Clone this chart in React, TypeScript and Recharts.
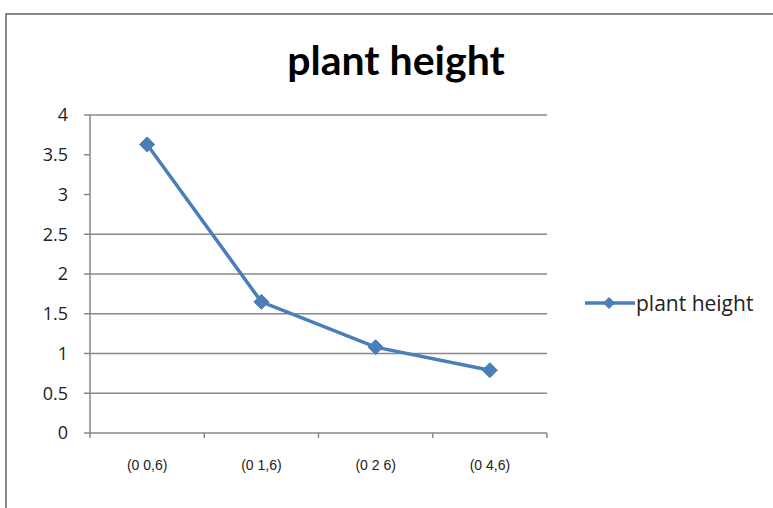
import { CartesianGrid, Line, LineChart, XAxis, YAxis } from "recharts"

const categories = ["(0 0,6)", "(0 1,6)", "(0 2 6)", "(0 4,6)"]
const plantHeight = [3.63, 1.65, 1.08, 0.79]
const yTicks = [0, 0.5, 1, 1.5, 2, 2.5, 3, 3.5, 4]
const gridValues = [0.5, 1, 1.5, 2, 2.5, 4]
const edgeTicks = [0, 1, 2, 3, 4]

// pos = middle of each category slot, used by the boundary-tick axis
const data = categories.map((name, i) => ({ name, pos: i + 0.5, height: plantHeight[i] }))

const BLUE = "#4a7ebb"
const AXIS = "#888888"
const Y_MAX = yTicks[yTicks.length - 1]

// diamond marker like the old office chart style
const Diamond = (props: any) => {
  const { cx, cy, size = 7.5 } = props
  if (cx == null || cy == null) return null
  return (
    <path
      key={`d-${cx}`}
      d={`M${cx},${cy - size} L${cx + size},${cy} L${cx},${cy + size} L${cx - size},${cy} Z`}
      fill={BLUE}
      stroke={BLUE}
      strokeWidth={1}
    />
  )
}

const LegendBox = () => (
  <div
    style={{
      position: "absolute",
      left: 584,
      top: 289,
      display: "flex",
      alignItems: "center",
      fontFamily: "Open Sans",
      fontSize: 21,
      color: "#222",
    }}
  >
    <svg width={52} height={16}>
      <line x1={1} y1={8} x2={51} y2={8} stroke={BLUE} strokeWidth={3.5} />
      <Diamond cx={25} cy={8} size={5.5} />
    </svg>
    <span>plant height</span>
  </div>
)

// only some of the value lines are drawn across the plot
const gridRows = ({ offset }: any) =>
  gridValues.map((v) => offset.top + offset.height * (1 - v / Y_MAX))

export default function App() {
  return (
    <div style={{ position: "absolute", left: 0, top: 0, width: 773, height: 508, background: "#fff" }}>
      <div
        style={{
          position: "absolute",
          left: 5,
          top: 13,
          right: 0,
          bottom: 0,
          borderTop: `2px solid ${AXIS}`,
          borderLeft: `2px solid ${AXIS}`,
        }}
      />
      <div
        style={{
          position: "absolute",
          left: 0,
          width: 792,
          top: 35,
          textAlign: "center",
          fontFamily: "Lato",
          fontWeight: 700,
          fontSize: 41,
          color: "#000",
        }}
      >
        plant height
      </div>
      <LineChart
        width={773}
        height={508}
        data={data}
        margin={{ top: 115, right: 226, bottom: 0, left: 0 }}
        style={{ position: "absolute", left: 0, top: 0 }}
      >
        <CartesianGrid
          vertical={false}
          stroke={AXIS}
          strokeWidth={1.5}
          horizontalCoordinatesGenerator={gridRows}
        />
        {/* category boundaries carry the tick marks */}
        <XAxis
          xAxisId="a_edges"
          dataKey="pos"
          type="number"
          domain={[0, categories.length]}
          allowDataOverflow
          ticks={edgeTicks}
          tickFormatter={() => ""}
          height={10}
          stroke={AXIS}
          strokeWidth={1.5}
          tickSize={5}
        />
        <XAxis
          xAxisId="b_labels"
          dataKey="name"
          scale="band"
          height={65}
          axisLine={false}
          tickLine={false}
          tickMargin={11}
          tick={{ fontFamily: "Liberation Sans", fontSize: 14, fill: "#222" }}
        />
        <YAxis
          domain={[0, Y_MAX]}
          ticks={yTicks}
          width={90}
          stroke={AXIS}
          strokeWidth={1.5}
          tickSize={6}
          tickMargin={16}
          tick={{ fontFamily: "Open Sans", fontSize: 18, fill: "#222" }}
        />
        <Line
          xAxisId="b_labels"
          dataKey="height"
          stroke={BLUE}
          strokeWidth={3.5}
          dot={<Diamond />}
          activeDot={false}
          isAnimationActive={false}
        />
      </LineChart>
      <LegendBox />
    </div>
  )
}
